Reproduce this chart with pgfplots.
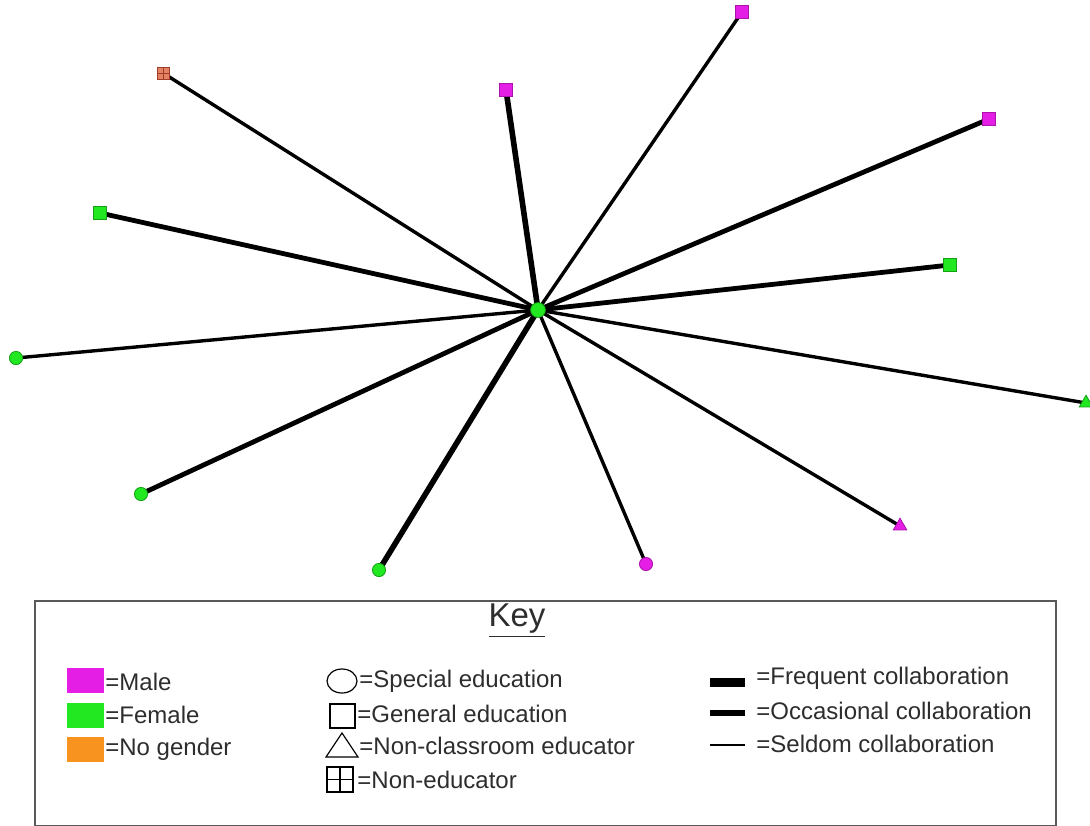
\documentclass[border=0pt]{standalone}
\usepackage{pgfplots}
\pgfplotsset{compat=1.18}
\usepackage{fontspec}
\setmainfont{Liberation Sans}

\definecolor{male}{RGB}{228,30,228}
\definecolor{maleE}{RGB}{170,20,170}
\definecolor{female}{RGB}{34,232,34}
\definecolor{femaleE}{RGB}{20,160,20}
\definecolor{nogender}{RGB}{247,147,30}
\definecolor{nonedu}{RGB}{228,130,100}
\definecolor{noneduE}{RGB}{160,60,40}
\definecolor{keytext}{RGB}{45,45,45}

% square with a cross in it (non-educator)
\pgfdeclareplotmark{grid}{%
  \pgfpathrectangle{\pgfqpoint{-\pgfplotmarksize}{-\pgfplotmarksize}}{\pgfqpoint{2\pgfplotmarksize}{2\pgfplotmarksize}}%
  \pgfusepathqfillstroke
  \pgfpathmoveto{\pgfqpoint{0pt}{-\pgfplotmarksize}}\pgfpathlineto{\pgfqpoint{0pt}{\pgfplotmarksize}}%
  \pgfpathmoveto{\pgfqpoint{-\pgfplotmarksize}{0pt}}\pgfpathlineto{\pgfqpoint{\pgfplotmarksize}{0pt}}%
  \pgfusepathqstroke}

\begin{document}
\begin{tikzpicture}
\begin{axis}[
  at={(0,0)}, anchor=south west,
  scale only axis, width=545pt, height=412.5pt,
  xmin=0, xmax=1090, ymin=0, ymax=825, y dir=reverse,
  axis lines=none, clip=false,
  seldom/.style={black, line width=1.7pt, no marks},
  occasional/.style={black, line width=2.4pt, no marks},
  frequent/.style={black, line width=2.8pt, no marks},
]
% edges from the centre node
\addplot[seldom]     coordinates {(538,310) (742,12)};
\addplot[frequent]   coordinates {(538,310) (506,90)};
\addplot[seldom]     coordinates {(538,310) (163,73)};
\addplot[occasional] coordinates {(538,310) (100,213)};
\addplot[occasional] coordinates {(538,310) (989,119)};
\addplot[occasional] coordinates {(538,310) (950,265)};
\addplot[seldom]     coordinates {(538,310) (16,358)};
\addplot[seldom]     coordinates {(538,310) (1086,403)};
\addplot[occasional] coordinates {(538,310) (141,494)};
\addplot[frequent]   coordinates {(538,310) (379,570)};
\addplot[seldom]     coordinates {(538,310) (646,564)};
\addplot[seldom]     coordinates {(538,310) (900,526)};

% nodes
\addplot[only marks, mark=square*, mark size=3.1pt, mark options={fill=male, draw=maleE, line width=0.4pt}]
  coordinates {(742,12) (506,90) (989,119)};
\addplot[only marks, mark=square*, mark size=3.1pt, mark options={fill=female, draw=femaleE, line width=0.4pt}]
  coordinates {(100,213) (950,265)};
\addplot[only marks, mark=*, mark size=3.3pt, mark options={fill=female, draw=femaleE, line width=0.4pt}]
  coordinates {(16,358) (141,494) (379,570)};
\addplot[only marks, mark=*, mark size=3.3pt, mark options={fill=male, draw=maleE, line width=0.4pt}]
  coordinates {(646,564)};
\addplot[only marks, mark=triangle*, mark size=3.9pt, mark options={fill=female, draw=femaleE, line width=0.4pt}]
  coordinates {(1086,403)};
\addplot[only marks, mark=triangle*, mark size=3.9pt, mark options={fill=male, draw=maleE, line width=0.4pt}]
  coordinates {(900,526)};
\addplot[only marks, mark=grid, mark size=3pt, mark options={fill=nonedu, draw=noneduE, line width=0.4pt}]
  coordinates {(163,73)};
\addplot[only marks, mark=*, mark size=3.7pt, mark options={fill=female, draw=femaleE, line width=0.4pt}]
  coordinates {(538,310)};

% key
\draw[gray!70!black, line width=1pt] (35,601) rectangle (1056,826);
\node[keytext, font=\fontsize{16.5}{18}\selectfont] at (517,621) {\underline{Key}};

\fill[male] (67,668) rectangle (104,693);
\fill[female] (67,703) rectangle (104,728);
\fill[nogender] (67,737) rectangle (104,762);
\begin{scope}[every node/.style={keytext, anchor=west, inner sep=0pt, font=\fontsize{12}{14}\selectfont}]
\node at (105,682) {=Male};
\node at (105,715) {=Female};
\node at (105,749) {=No gender};
\node at (359,681) {=Special education};
\node at (357,714) {=General education};
\node at (359,746) {=Non-classroom educator};
\node at (357,780) {=Non-educator};
\node at (756,678) {=Frequent collaboration};
\node at (756,711) {=Occasional collaboration};
\node at (756,744) {=Seldom collaboration};
\end{scope}

\draw[black, line width=0.6pt] (342,681) ellipse [x radius=7.5pt, y radius=6pt];
\draw[black, line width=0.6pt] (330,704) rectangle (355,728);
\draw[black, line width=0.6pt] (326,757) -- (342,733) -- (358,757) -- cycle;
\draw[black, line width=0.6pt] (327,767) rectangle (353,792) (340,767) -- (340,792) (327,779.5) -- (353,779.5);

\draw[black, line width=4.5pt] (710,682) -- (745,682);
\draw[black, line width=2.8pt] (710,713) -- (745,713);
\draw[black, line width=1pt] (710,745) -- (745,745);
\end{axis}
\pgfresetboundingbox
\path (0,0) rectangle (545pt,412.5pt);
\end{tikzpicture}
\end{document}
